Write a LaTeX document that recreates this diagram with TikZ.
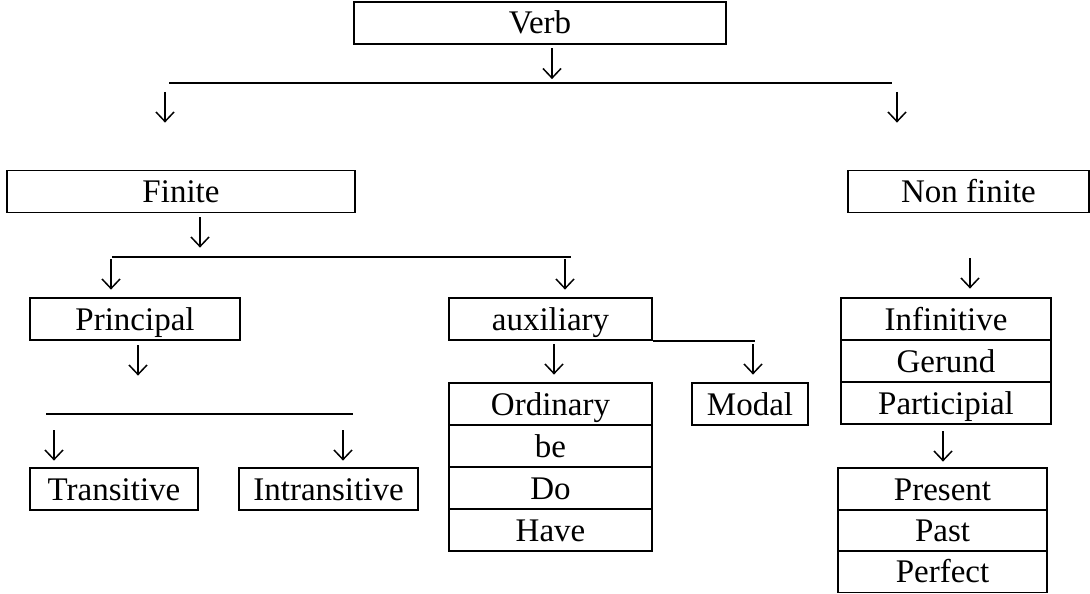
\documentclass[tikz,border=0pt]{standalone}
\usepackage{fontspec}
\setmainfont{Liberation Serif}
\begin{document}
\begin{tikzpicture}[
    x=1pt, y=-1pt,
    % Define styles
    term/.style={
        rectangle,
        draw,
        line width=1.8pt,
        inner sep=0pt,
        minimum height=42pt,
        text height=29pt,
        text depth=7pt,
        font=\fontsize{33}{40}\selectfont
    },
    down/.style={
        inner sep=0pt,
        minimum width=24pt,
        minimum height=34pt,
        path picture={
            \draw[line width=1.5pt]
                ([yshift=-2pt]path picture bounding box.north) --
                ([yshift=2.5pt]path picture bounding box.south);
            \draw[line width=1.5pt, line join=miter]
                ([xshift=-9pt,yshift=12pt]path picture bounding box.south) --
                ([yshift=2.5pt]path picture bounding box.south) --
                ([xshift=9pt,yshift=12pt]path picture bounding box.south);
        }
    },
    rule/.style={
        line width=1.5pt
    }
]
\useasboundingbox (0,0) rectangle (1090,594);

% Top level
\node[term, minimum width=372pt] (verb) at (540,23) {Verb};
\node[down] (verbdown) at (552,63.5) {};
\coordinate (l1a) at (169,83);
\coordinate (l1b) at (892,83);
\draw[rule] (l1a) -- (l1b);
\node[down] (finitedown) at (165,107) {};
\node[down] (nonfinitedown) at (897,107) {};

% Second level
\node[term, minimum width=348pt] (finite) at (181,191.5) {Finite};
\node[term, minimum width=241pt] (nonfinite) at (968.5,191.5) {Non finite};

% Finite branch
\node[down] (finitearrow) at (200,232) {};
\coordinate (l2a) at (112,257);
\coordinate (l2b) at (571,257);
\draw[rule] (l2a) -- (l2b);
\node[down] (principaldown) at (111,274) {};
\node[down] (auxdown) at (565,274) {};

\node[term, minimum width=210pt] (principal) at (135,319) {Principal};
\node[term, minimum width=203pt] (auxiliary) at (550.5,319) {auxiliary};
\coordinate (auxline) at (755,339);
\draw[rule] (auxiliary.south east) -- (auxiliary.south east -| auxline);

% Principal branch
\node[down] (principalarrow) at (138,360) {};
\coordinate (l3a) at (46,414);
\coordinate (l3b) at (353,414);
\draw[rule] (l3a) -- (l3b);
\node[down] (transdown) at (54,445) {};
\node[down] (intransdown) at (343,445) {};
\node[term, minimum width=168pt] (transitive) at (114,489) {Transitive};
\node[term, minimum width=179pt] (intransitive) at (328.5,489) {Intransitive};

% Auxiliary branch
\node[down] (ordinarydown) at (554,359) {};
\node[down] (modaldown) at (753,359) {};
\node[term, minimum width=203pt] (ordinary) at (550.5,404) {Ordinary};
\node[term, minimum width=203pt] (be) at (550.5,446) {be};
\node[term, minimum width=203pt] (do) at (550.5,488) {Do};
\node[term, minimum width=203pt] (have) at (550.5,530) {Have};
\node[term, minimum width=116pt] (modal) at (750,404) {Modal};

% Non finite branch
\node[down] (nonfinitearrow) at (970,273) {};
\node[term, minimum width=210pt] (infinitive) at (946,319) {Infinitive};
\node[term, minimum width=210pt] (gerund) at (946,361) {Gerund};
\node[term, minimum width=210pt] (participial) at (946,403) {Participial};
\node[down] (participialdown) at (943,446) {};
\node[term, minimum width=209pt] (present) at (942.5,489) {Present};
\node[term, minimum width=209pt] (past) at (942.5,530.5) {Past};
\node[term, minimum width=209pt] (perfect) at (942.5,571.5) {Perfect};
\end{tikzpicture}
\end{document}
